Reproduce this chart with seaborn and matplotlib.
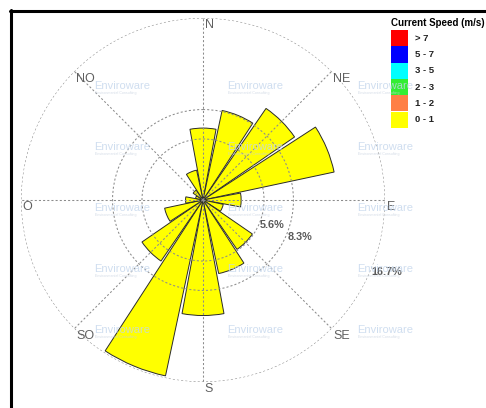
import numpy as np
import pandas as pd
import matplotlib
matplotlib.use("Agg")
import matplotlib.pyplot as plt
from matplotlib.lines import Line2D
from matplotlib.patches import Rectangle
import seaborn as sns

# Frequency of occurrence (%) per 16-point direction sector (0-1 m/s class)
directions = ["N", "NNE", "NE", "ENE", "E", "ESE", "SE", "SSE",
              "S", "SSW", "SW", "WSW", "W", "WNW", "NW", "NNW"]
bearing_deg = [0, 22.5, 45, 67.5, 90, 112.5, 135, 157.5,
               180, 202.5, 225, 247.5, 270, 292.5, 315, 337.5]
frequency = [6.6, 8.4, 10.2, 12.3, 3.5, 1.9, 5.5, 6.9,
             10.6, 16.5, 6.8, 3.6, 1.6, 0.7, 1.1, 2.8]

ring_values = [5.6, 8.3, 16.7]
ring_labels = ["5.6%", "8.3%", "16.7%"]
compass_bearing = [0, 45, 90, 135, 180, 225, 270, 315]
compass_labels = ["N", "NE", "E", "SE", "S", "SO", "O", "NO"]

legend_title = "Current Speed (m/s)"
speed_classes = ["> 7", "5 - 7", "3 - 5", "2 - 3", "1 - 2", "0 - 1"]
speed_colors = ["#ff0000", "#0000ff", "#00ffff", "#33ee33", "#ff7f45", "#ffff00"]

W, H = 486, 408

sns.set_theme(style="white")
plt.rcParams["font.family"] = ["Liberation Sans", "DejaVu Sans"]

fig = plt.figure(figsize=(W / 100, H / 100), dpi=100)
fig.patch.set_facecolor("white")


def fx(px):
    return px / W


def fy(py):
    return 1 - py / H


# Polar axes: centre (203, 200) px, outer ring radius 182 px
cx, cy, R = 203, 200, 182
ax = fig.add_axes([fx(cx - R), fy(cy + R), 2 * R / W, 2 * R / H], projection="polar")
ax.set_theta_zero_location("N")
ax.set_theta_direction(-1)

df = pd.DataFrame({"theta": np.deg2rad(bearing_deg), "freq": frequency})
sns.barplot(data=df, x="theta", y="freq", native_scale=True, width=0.93,
            color="#ffff00", saturation=1, edgecolor="#2a2a2a", linewidth=0.7,
            errorbar=None, ax=ax, zorder=1)

ax.set_xlabel("")
ax.set_ylabel("")
ax.set_ylim(0, ring_values[-1])
ax.set_yticks(ring_values)
ax.set_yticklabels([])
ax.set_xticks(np.deg2rad(compass_bearing))
ax.set_xticklabels([])
ax.set_axisbelow(False)
ax.grid(True, color="#8c8c8c", linestyle=(0, (2.0, 2.0)), linewidth=0.75)
ax.spines["polar"].set_visible(False)
ax.set_facecolor("none")

# Compass labels sit just inside the outer ring
for b, lab in zip(compass_bearing, compass_labels):
    ax.annotate(lab, xy=(np.deg2rad(b), ring_values[-1]), xycoords="data",
                xytext=(1.2, -1.0), textcoords="offset points",
                ha="left", va="top", fontsize=9, color="#606060", zorder=5)

# Ring percentage labels along the ESE radial
for v, lab in zip(ring_values, ring_labels):
    ax.annotate(lab, xy=(np.deg2rad(112.5), v), xycoords="data",
                xytext=(0.5, -1.5), textcoords="offset points",
                ha="left", va="center", fontsize=7.8, fontweight="bold",
                color="#5a5a5a", zorder=5)

# Watermark grid
wm_cols = [94, 227, 357]
wm_rows = [86, 147, 208, 269, 330]
for yy in wm_rows:
    for xx in wm_cols:
        fig.text(fx(xx), fy(yy), "Enviroware", ha="left", va="center",
                 fontsize=8, color="#c4d6ec", alpha=0.8, zorder=10)
        fig.text(fx(xx + 1), fy(yy + 7), "Environmental Consulting",
                 ha="left", va="center", fontsize=2.6, color="#c8d2e0",
                 alpha=0.8, zorder=10)

# Legend
fig.text(fx(391), fy(23), legend_title, ha="left", va="center",
         fontsize=7, fontweight="bold", color="black")
box_top, box_h = 30, 16.3
for i, (lab, col) in enumerate(zip(speed_classes, speed_colors)):
    y0 = box_top + i * box_h
    fig.patches.append(Rectangle((fx(391), fy(y0 + box_h)), 17 / W, box_h / H,
                                 transform=fig.transFigure, facecolor=col,
                                 edgecolor="none"))
    fig.text(fx(415), fy(y0 + box_h / 2), lab, ha="left", va="center",
             fontsize=6.8, fontweight="bold", color="#222222")

# Frame (top and left edges)
fig.lines.append(Line2D([fx(10), 1], [fy(10.8), fy(10.8)], transform=fig.transFigure,
                        color="black", linewidth=2.2))
fig.lines.append(Line2D([fx(11.3), fx(11.3)], [fy(10), 0], transform=fig.transFigure,
                        color="black", linewidth=2.2))

fig.savefig("out.png", dpi=100, facecolor="white")
